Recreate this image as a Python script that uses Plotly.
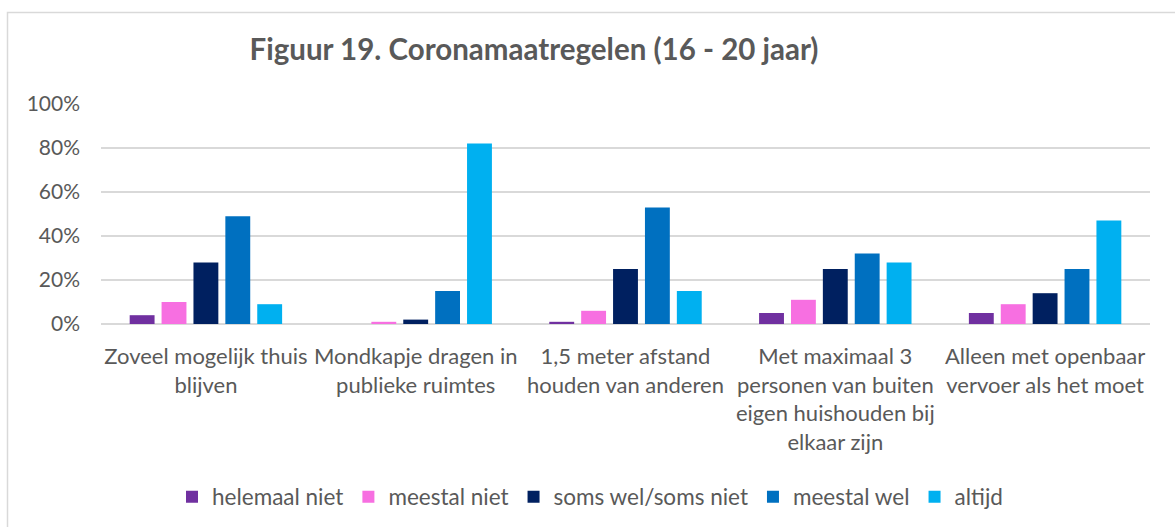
import plotly.graph_objects as go

categories = [
    "Zoveel mogelijk thuis<br>blijven",
    "Mondkapje dragen in<br>publieke ruimtes",
    "1,5 meter afstand<br>houden van anderen",
    "Met maximaal 3<br>personen van buiten<br>eigen huishouden bij<br>elkaar zijn",
    "Alleen met openbaar<br>vervoer als het moet",
]
series_names = ["helemaal niet", "meestal niet", "soms wel/soms niet", "meestal wel", "altijd"]
helemaal_niet = [0.04, 0.00, 0.01, 0.05, 0.05]
meestal_niet = [0.10, 0.01, 0.06, 0.11, 0.09]
soms = [0.28, 0.02, 0.25, 0.25, 0.14]
meestal_wel = [0.49, 0.15, 0.53, 0.32, 0.25]
altijd = [0.09, 0.82, 0.15, 0.28, 0.47]
colors = ["#7030A0", "#F76FE1", "#002060", "#0070C0", "#00B0F0"]
tick_vals = [0, 0.2, 0.4, 0.6, 0.8, 1.0]
tick_text = ["0%", "20%", "40%", "60%", "80%", "100%"]
title_text = "Figuur 19. Coronamaatregelen (16 - 20 jaar)"

W, H = 1175, 527
ML, MR, MT, MB = 101, 25, 104, 203
FONT = "Lato"
GRAY = "#595959"

fig = go.Figure()
for name, vals, col in zip(series_names, [helemaal_niet, meestal_niet, soms, meestal_wel, altijd], colors):
    fig.add_trace(go.Bar(name=name, x=categories, y=vals, marker=dict(color=col, line=dict(width=0))))

pw = W - ML - MR
ph = H - MT - MB
def px_x(p):
    return (p - ML) / pw
def px_y(p):
    return (H - MB - p) / ph

fig.update_layout(
    width=W, height=H,
    margin=dict(l=ML, r=MR, t=MT, b=MB, autoexpand=False),
    paper_bgcolor="white", plot_bgcolor="white",
    barmode="group", bargap=0.24, bargroupgap=0.22,
    font=dict(family=FONT, color=GRAY, size=21),
    title=dict(text="<b>" + title_text + "</b>", x=534 / W, xref="container", xanchor="center",
               y=1 - 50 / H, yref="container", yanchor="middle",
               font=dict(family=FONT, size=29.5, color=GRAY)),
    xaxis=dict(showgrid=False, showline=False, ticks="", tickfont=dict(size=22, color=GRAY),
               tickangle=0, ticklabelstandoff=17),
    yaxis=dict(range=[0, 1.0], tickvals=tick_vals, ticktext=tick_text, showgrid=True,
               gridcolor="#D9D9D9", gridwidth=1.5, zeroline=True, zerolinecolor="#D9D9D9",
               zerolinewidth=1.5, showline=False, ticks="", ticklabelstandoff=20,
               tickfont=dict(size=21, color=GRAY)),
    legend=dict(orientation="h", x=590 / W, xref="container", xanchor="center",
                y=px_y(497), yanchor="middle", font=dict(size=22.5, color=GRAY),
                itemwidth=30, traceorder="normal"),
    shapes=[dict(type="rect", xref="paper", yref="paper",
                 x0=px_x(7.5), x1=px_x(1185), y0=px_y(540), y1=px_y(12.5),
                 line=dict(color="#D9D9D9", width=1.5), fillcolor="rgba(0,0,0,0)", layer="below")],
)

fig.write_html("out.html", config={"displayModeBar": False},
               post_script="document.body.style.margin='0px';")
